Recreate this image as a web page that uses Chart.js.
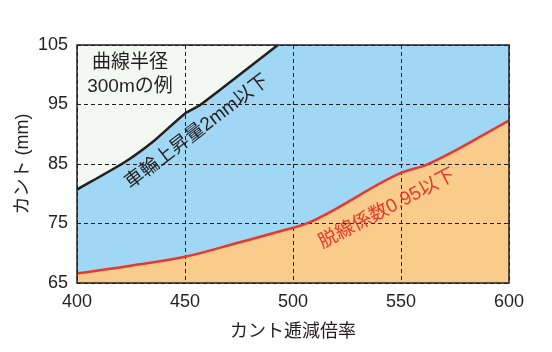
<!DOCTYPE html>
<html>
<head>
<meta charset="utf-8">
<script src="https://cdn.jsdelivr.net/npm/chart.js@4/dist/chart.umd.min.js"></script>
<style>
  html, body { margin: 0; padding: 0; background: #fff; }
  #wrap { width: 552px; height: 352px; }
</style>
</head>
<body>
<div id="wrap"><canvas id="cantChart" width="552" height="352"></canvas></div>
<script>
// Data
const xTicks = [400, 450, 500, 550, 600];
const yTicks = [65, 75, 85, 95, 105];

// 車輪上昇量2mm以下 boundary
const wheelX = [400, 422, 436, 450, 457, 493];
const wheelY = [80.7, 85.3, 89.0, 93.5, 94.9, 105];

// 脱線係数0.95以下 boundary
const derailX = [400, 425, 450, 475, 494, 507, 550, 562, 600];
const derailY = [66.6, 67.9, 69.4, 71.8, 73.7, 75.1, 83.5, 84.9, 92.3];

// blue zone spans the whole range up to the top of the axis
const zoneX = [400, 600];
const zoneY = [105, 105];

const FONT = '"Liberation Sans", "Noto Sans CJK JP", sans-serif';
const INK = "#231f20";
const RED = "#e8382d";

const pts = (xs, ys) => xs.map((x, i) => ({ x, y: ys[i] }));

const chartLeft = 77, chartRight = 509, chartTop = 45, chartBottom = 283;

// frame + text labels
const labelPlugin = {
    id: "labels",
    afterDraw(chart) {
        const { ctx, chartArea: a } = chart;
        ctx.save();
        ctx.strokeStyle = INK;
        ctx.lineWidth = 1.5;
        ctx.strokeRect(a.left, a.top, a.right - a.left, a.bottom - a.top);

        ctx.font = "19px " + FONT;
        ctx.fillStyle = INK;
        ctx.textAlign = "center";
        ctx.textBaseline = "middle";
        ctx.fillText("曲線半径", 130, 63);
        ctx.fillText("300mの例", 130, 87);

        ctx.save();
        ctx.translate(197, 132);
        ctx.rotate(-37.4 * Math.PI / 180);
        ctx.fillText("車輪上昇量2mm以下", 0, 0);
        ctx.restore();

        ctx.save();
        ctx.fillStyle = RED;
        ctx.translate(387, 209);
        ctx.rotate(-27.5 * Math.PI / 180);
        ctx.fillText("脱線係数0.95以下", 0, 0);
        ctx.restore();

        ctx.restore();
    }
};

const gridOpts = {
    color: INK,
    lineWidth: 1,
    drawTicks: false
};

new Chart(document.getElementById("cantChart"), {
    type: "line",
    data: {
        datasets: [
            {
                label: "wheel",
                data: pts(wheelX, wheelY),
                borderColor: INK,
                borderWidth: 2.5,
                pointRadius: 0,
                tension: 0.2,
                fill: { target: "end" },
                backgroundColor: "#f3f8f3"
            },
            {
                label: "derail",
                data: pts(derailX, derailY),
                borderColor: RED,
                borderWidth: 2.5,
                pointRadius: 0,
                cubicInterpolationMode: "monotone",
                fill: { target: "start" },
                backgroundColor: "#f9cc8b"
            },
            {
                label: "zone",
                data: pts(zoneX, zoneY),
                borderWidth: 0,
                borderColor: "rgba(0,0,0,0)",
                pointRadius: 0,
                fill: { target: "start" },
                backgroundColor: "#a0d7f4"
            }
        ]
    },
    options: {
        responsive: false,
        animation: false,
        layout: { padding: { left: 0, right: 552 - chartRight, top: chartTop, bottom: 0 } },
        plugins: {
            legend: { display: false },
            tooltip: { enabled: false },
            filler: { drawTime: "beforeDraw" }
        },
        scales: {
            x: {
                type: "linear",
                min: 400,
                max: 600,
                afterBuildTicks: s => { s.ticks = xTicks.map(v => ({ value: v })); },
                afterFit: s => { s.height = 352 - chartBottom; },
                grid: gridOpts,
                border: { display: false, dash: [4, 3] },
                ticks: { color: INK, font: { size: 18, family: FONT }, padding: 8 },
                title: {
                    display: true,
                    text: "カント逓減倍率",
                    color: INK,
                    font: { size: 18, family: FONT },
                    padding: { top: 0, bottom: 9 }
                }
            },
            y: {
                min: 65,
                max: 105,
                afterBuildTicks: s => { s.ticks = yTicks.map(v => ({ value: v })); },
                afterFit: s => { s.width = chartLeft; },
                grid: gridOpts,
                border: { display: false, dash: [4, 3] },
                ticks: { color: INK, font: { size: 18, family: FONT }, padding: 9 },
                title: {
                    display: true,
                    text: "カント (mm)",
                    color: INK,
                    font: { size: 18, family: FONT },
                    padding: { top: 12, bottom: 0 }
                }
            }
        }
    },
    plugins: [labelPlugin]
});
</script>
</body>
</html>
